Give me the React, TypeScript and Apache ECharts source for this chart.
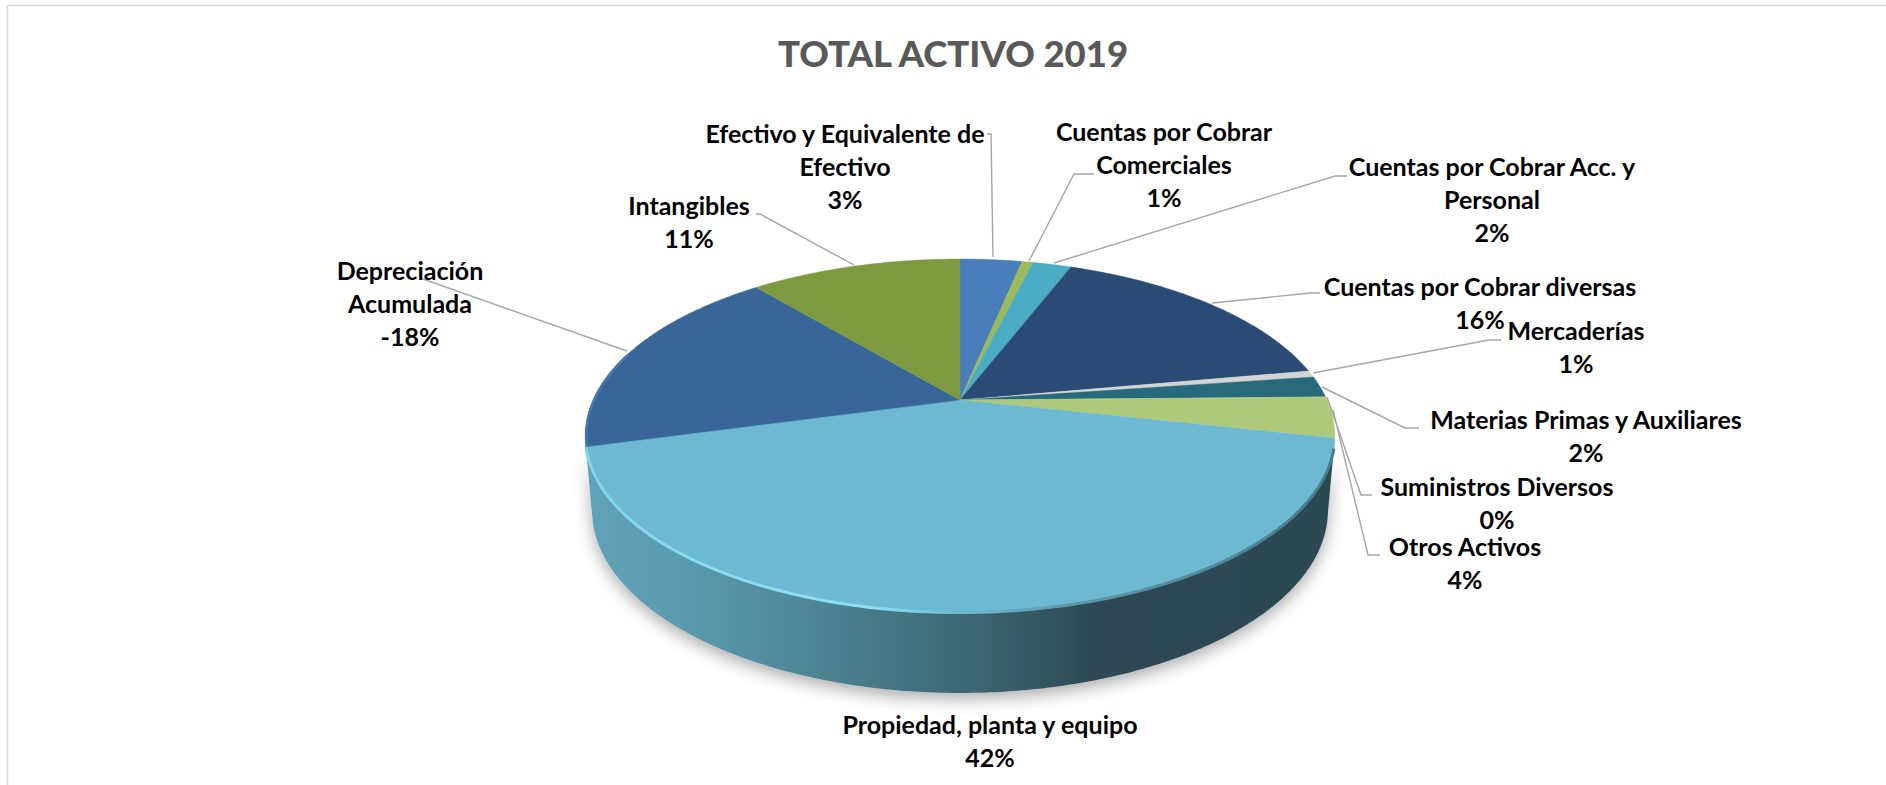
import React, { useEffect, useRef } from "react";
import * as echarts from "echarts";

const titleText = "TOTAL ACTIVO 2019";
const categories = [
  "Efectivo y Equivalente de\nEfectivo",
  "Cuentas por Cobrar\nComerciales",
  "Cuentas por Cobrar Acc. y\nPersonal",
  "Cuentas por Cobrar diversas",
  "Mercaderías",
  "Materias Primas y Auxiliares",
  "Suministros Diversos",
  "Otros Activos",
  "Propiedad, planta y equipo",
  "Depreciación\nAcumulada",
  "Intangibles",
];
// Share of the pie each slice covers
const sliceShares = [3.25, 0.58, 2.03, 16.31, 0.61, 1.92, 0.1, 3.65, 42.35, 18.1, 11.1];
// Percentages printed on the labels
const percentLabels = ["3%", "1%", "2%", "16%", "1%", "2%", "0%", "4%", "42%", "-18%", "11%"];
const sliceColors = ["#4a7ebb", "#9bbb59", "#4bacc6", "#2a4b75", "#d4d4d4", "#276a7c", "#afc97a", "#afc97a", "#6cb9d1", "#386699", "#7d9a3f"];

// Layout of labels (centre x, first line centre y) and of their leader lines
const labelAnchors = [
  [845, 133], [1164, 131], [1492, 166], [1480, 286], [1576, 330], [1586, 419],
  [1497, 486], [1465, 546], [990, 724], [410, 270], [689, 205],
];
const leaderLines: number[][][] = [
  [[987, 134], [991, 134], [993, 257]],
  [[1094, 174], [1074, 174], [1029, 261]],
  [[1347, 176], [1335, 176], [1054, 263]],
  [[1320, 293], [1311, 293], [1212, 303]],
  [[1501, 340], [1489, 340], [1313, 373]],
  [[1419, 428], [1405, 428], [1322, 387]],
  [[1372, 495], [1361, 495], [1327, 397]],
  [[1380, 555], [1368, 555], [1333, 410]],
  [],
  [[423, 279], [627, 351]],
  [[756, 214], [760, 214], [854, 265]],
];

const CX = 960;
const CY = 400;
const P = 0.2034;
const topB = 367;
const topA = 169.7;
const botB = 360.3;
const botA = 175.4;
const botDy = 72.8;
const labelFont = 'bold 25px Lato, "Noto Sans", sans-serif';

const total = sliceShares.reduce((a, b) => a + b, 0);
const cumulative = sliceShares.reduce<number[]>((acc, v) => [...acc, acc[acc.length - 1] + v], [0]);
const toAngle = (share: number) => (share / total) * Math.PI * 2;

const rimTop = (a: number) => {
  const d = 1 + P * Math.cos(a);
  return [CX + (topB * Math.sin(a)) / d, CY - (topA * Math.cos(a)) / d];
};
const rimBottom = (a: number) => {
  const d = 1 + P * Math.cos(a);
  return [CX + (botB * Math.sin(a)) / d, CY + botDy - (botA * Math.cos(a)) / d];
};
const arcPoints = (from: number, to: number, fn: (a: number) => number[]) => {
  const n = Math.max(2, Math.ceil(Math.abs(to - from) / 0.01));
  const pts: number[][] = [];
  for (let i = 0; i <= n; i++) pts.push(fn(from + ((to - from) * i) / n));
  return pts;
};
const frontIndex = sliceShares.indexOf(Math.max(...sliceShares));

const hGrad = (stops: [number, string][]) => ({
  type: "linear", x: 0, y: 0, x2: 1, y2: 0,
  colorStops: stops.map(([offset, color]) => ({ offset, color })),
});

function renderSide(params: any) {
  const i = params.dataIndex;
  if (i !== frontIndex) return { type: "group", children: [] };
  const a0 = toAngle(cumulative[i]);
  const a1 = toAngle(cumulative[i + 1]);
  const pts = [...arcPoints(a0, a1, rimTop), ...arcPoints(a1, a0, rimBottom)];
  return {
    type: "polygon",
    shape: { points: pts },
    style: {
      fill: hGrad([[0, "#5fa2b7"], [0.12, "#5b9bb0"], [0.28, "#508898"], [0.5, "#3d6975"], [0.68, "#2d4a54"], [1, "#2c4a53"]]),
      shadowBlur: 16,
      shadowColor: "rgba(0,0,0,0.32)",
      shadowOffsetY: 6,
    },
  };
}

function renderFace(params: any) {
  const i = params.dataIndex;
  const a0 = toAngle(cumulative[i]);
  const a1 = toAngle(cumulative[i + 1]);
  const children: any[] = [
    {
      type: "polygon",
      shape: { points: [[CX, CY], ...arcPoints(a0, a1, rimTop)] },
      style: { fill: sliceColors[i], stroke: sliceColors[i], lineWidth: 0.4 },
    },
  ];
  if (i === frontIndex) {
    children.push({
      type: "polyline",
      shape: { points: arcPoints(a0 + 0.06, a1, (a) => { const p = rimTop(a); return [p[0], p[1] - 0.5]; }) },
      style: {
        fill: "none",
        lineWidth: 3,
        stroke: hGrad([[0, "#7fd4ea"], [0.15, "#88dcf0"], [0.38, "#8be0f5"], [0.5, "#6cb9d1"], [0.65, "#5a98ab"], [1, "#4a7d8c"]]),
      },
    });
  }
  if (i === frontIndex + 1) {
    children.push({
      type: "polyline",
      shape: { points: arcPoints(a0, a0 + 0.55, (a) => { const p = rimTop(a); return [p[0] + 1.2, p[1]]; }) },
      style: { fill: "none", lineWidth: 2.5, stroke: "#4677b2" },
    });
  }
  return { type: "group", children };
}

function renderLabel(params: any) {
  const i = params.dataIndex;
  const children: any[] = [];
  const line = leaderLines[i];
  if (line.length) {
    children.push({
      type: "polyline",
      shape: { points: line },
      style: { fill: "none", stroke: "#a6a6a6", lineWidth: 1.4 },
    });
  }
  const text = `${categories[i]}\n${percentLabels[i]}`;
  children.push({
    type: "text",
    style: {
      text,
      x: labelAnchors[i][0],
      y: labelAnchors[i][1] - 16.5,
      align: "center",
      verticalAlign: "top",
      font: labelFont,
      lineHeight: 33,
      fill: "#000000",
    },
  });
  return { type: "group", children };
}

export default function App() {
  const ref = useRef<HTMLDivElement>(null);
  useEffect(() => {
    const chart = echarts.init(ref.current!, undefined, { renderer: "svg" });
    const rows = categories.map((_, i) => [i]);
    chart.setOption({
      animation: false,
      backgroundColor: "#ffffff",
      title: {
        text: titleText,
        left: 948,
        top: 29,
        textAlign: "center",
        textStyle: { color: "#595959", fontSize: 36.5, fontWeight: 900, fontFamily: 'Lato, "Noto Sans", sans-serif' },
      },
      graphic: [
        { type: "line", silent: true, shape: { x1: 7.5, y1: 5.5, x2: 7.5, y2: 785 }, style: { stroke: "#d9d9d9", lineWidth: 1.5 } },
        { type: "line", silent: true, shape: { x1: 7.5, y1: 5.5, x2: 1886, y2: 5.5 }, style: { stroke: "#d9d9d9", lineWidth: 1.5 } },
      ],
      series: [
        { type: "custom", coordinateSystem: "none", silent: true, clip: false, data: rows, renderItem: renderSide },
        { type: "custom", coordinateSystem: "none", silent: true, clip: false, data: rows, renderItem: renderFace },
        { type: "custom", coordinateSystem: "none", silent: true, clip: false, data: rows, renderItem: renderLabel },
      ],
    });
    return () => chart.dispose();
  }, []);
  return <div ref={ref} style={{ position: "absolute", left: 0, top: 0, width: 1886, height: 785 }} />;
}
